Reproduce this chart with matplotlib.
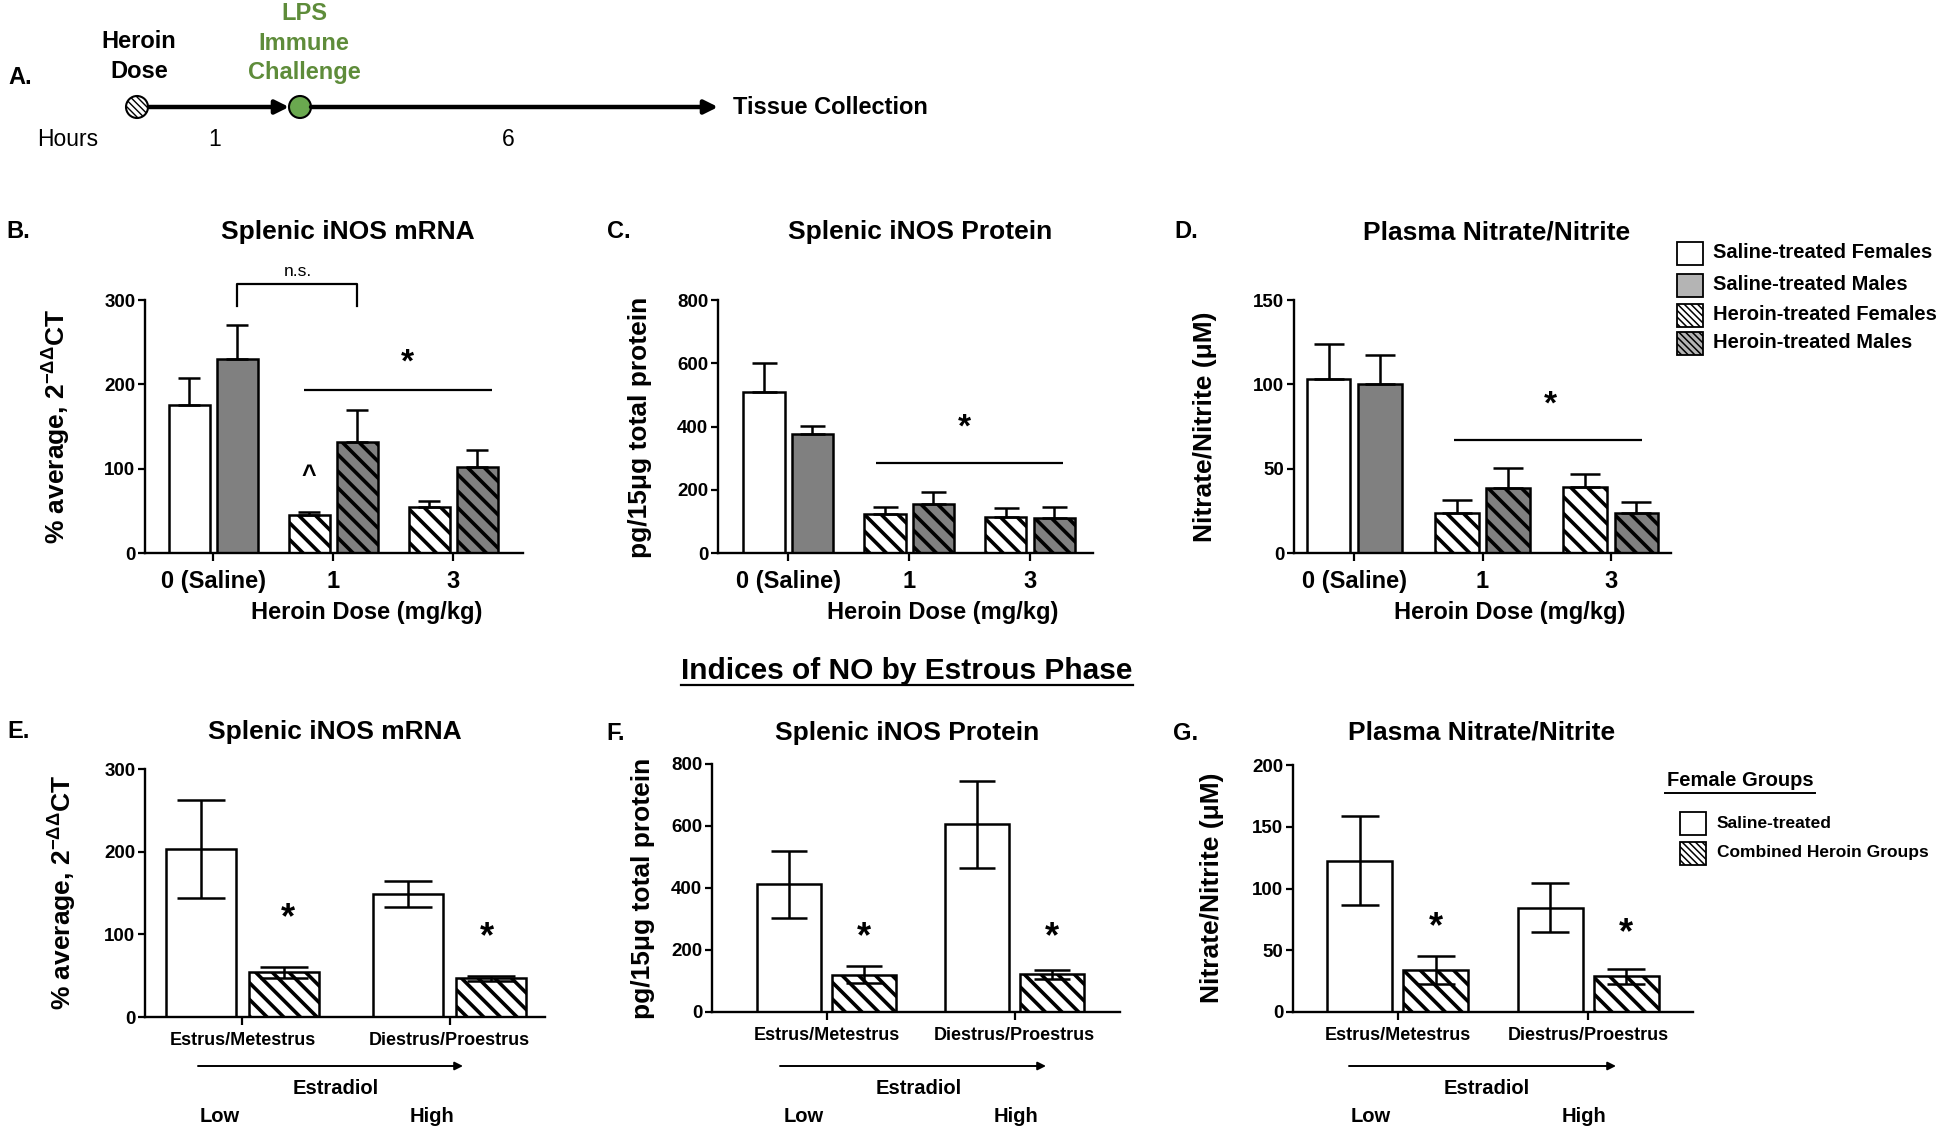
import numpy as np
import matplotlib
matplotlib.use("Agg")
import matplotlib.pyplot as plt
from matplotlib.patches import Rectangle, Circle

plt.rcParams['font.family'] = ['Liberation Sans', 'DejaVu Sans']
plt.rcParams['font.weight'] = 'bold'
plt.rcParams['mathtext.default'] = 'regular'
plt.rcParams['hatch.linewidth'] = 2.6

W, H = 1950, 1135
GRAY = '#808080'
LEGEND_GRAY = '#b4b4b4'
GREEN = '#6aa84f'
GREEN_TEXT = '#5e8c3a'
BAR_HATCH = '\\\\'
SMALL_HATCH = '\\\\\\\\\\'

# ---- data: dose study (B-D), female / male means and SEM ----
dose_labels = ['0 (Saline)', '1', '3']
mrna_f = [176, 45, 55]
mrna_f_sem = [32, 3.5, 6.7]
mrna_m = [230, 132, 102]
mrna_m_sem = [40, 37, 20]

prot_f = [508, 124, 115]
prot_f_sem = [92, 20, 27]
prot_m = [375, 154, 112]
prot_m_sem = [26, 39, 34]

nox_f = [103, 24, 39]
nox_f_sem = [21, 7.4, 7.7]
nox_m = [100.4, 38.4, 24]
nox_m_sem = [17, 12, 6.4]

# ---- data: estrous phase (E-G), saline vs combined heroin ----
phase_labels = ['Estrus/Metestrus', 'Diestrus/Proestrus']
e_saline = [203, 149]
e_saline_sem = [59, 16]
e_heroin = [54, 47]
e_heroin_sem = [7, 3]

f_saline = [412, 605]
f_saline_sem = [108, 140]
f_heroin = [120, 122]
f_heroin_sem = [28, 15]

g_saline = [122.5, 84.5]
g_saline_sem = [36, 20]
g_heroin = [34, 29]
g_heroin_sem = [11, 6]

legend_top = ['Saline-treated Females', 'Saline-treated Males',
              'Heroin-treated Females', 'Heroin-treated Males']
legend_bottom = ['Saline-treated', 'Combined Heroin Groups']

fig = plt.figure(figsize=(W / 100, H / 100), dpi=100)
ax0 = fig.add_axes([0, 0, 1, 1])
ax0.set_xlim(0, W)
ax0.set_ylim(H, 0)
ax0.axis('off')


def px_axes(x0, y0, x1, y1):
    ax = fig.add_axes([x0 / W, 1 - y1 / H, (x1 - x0) / W, (y1 - y0) / H])
    ax.set_facecolor('none')
    for s in ['top', 'right']:
        ax.spines[s].set_visible(False)
    for s in ['left', 'bottom']:
        ax.spines[s].set_linewidth(1.7)
    ax.tick_params(axis='y', length=5, width=1.6, labelsize=13.5, pad=2)
    ax.tick_params(axis='x', length=6, width=1.6)
    return ax


def star(ax, x, y, size=26, txt='*'):
    ax.annotate(txt, (x, y), xytext=(0, -0.42 * size), textcoords='offset points',
                ha='center', va='baseline', fontsize=size)


def dose_panel(ax, mf, sf, mm, sm, ymax, step, xlim, cap):
    x = np.arange(len(dose_labels))
    hatches = [None, BAR_HATCH, BAR_HATCH]
    for i in x:
        ax.bar(i - 0.2, mf[i], 0.34, color='white', edgecolor='black', linewidth=1.8,
               hatch=hatches[i], zorder=2)
        ax.bar(i + 0.2, mm[i], 0.34, color=GRAY, edgecolor='black', linewidth=1.8,
               hatch=hatches[i], zorder=2)
    z = np.zeros(len(x))
    ax.errorbar(x - 0.2, mf, yerr=[z, sf], fmt='none', ecolor='black', elinewidth=1.8,
                capsize=cap, capthick=1.8, zorder=3)
    ax.errorbar(x + 0.2, mm, yerr=[z, sm], fmt='none', ecolor='black', elinewidth=1.8,
                capsize=cap, capthick=1.8, zorder=3)
    ax.set_xlim(*xlim)
    ax.set_ylim(0, ymax)
    ax.set_yticks(np.arange(0, ymax + 1, step))
    ax.set_xticks(x)
    ax.set_xticklabels(dose_labels, fontsize=17)
    ax.tick_params(axis='x', pad=6)


def phase_panel(ax, ms, ss, mh, sh, ymax, step, xlim, cap):
    x = np.arange(len(phase_labels))
    ax.bar(x - 0.2, ms, 0.34, color='white', edgecolor='black', linewidth=1.8, zorder=2)
    ax.bar(x + 0.2, mh, 0.34, color='white', edgecolor='black', linewidth=1.8,
           hatch=BAR_HATCH, zorder=2)
    ax.errorbar(x - 0.2, ms, yerr=ss, fmt='none', ecolor='black', elinewidth=1.8,
                capsize=cap, capthick=1.8, zorder=3)
    ax.errorbar(x + 0.2, mh, yerr=sh, fmt='none', ecolor='black', elinewidth=1.8,
                capsize=cap, capthick=1.8, zorder=3)
    ax.set_xlim(*xlim)
    ax.set_ylim(0, ymax)
    ax.set_yticks(np.arange(0, ymax + 1, step))
    ax.set_xticks(x)
    ax.set_xticklabels(phase_labels, fontsize=13)
    ax.tick_params(axis='x', pad=5)


def sig_line(ax, x0, x1, y):
    ax.plot([x0, x1], [y, y], color='black', lw=1.6, solid_capstyle='butt')


def legend_box(x, y, fill, hatch=None):
    r = Rectangle((x, y - 11.5), 26, 23, facecolor=fill, edgecolor='black',
                  linewidth=1.3, hatch=hatch)
    if hatch and hasattr(r, 'set_hatch_linewidth'):
        r.set_hatch_linewidth(1.1)
    ax0.add_patch(r)


# ---- A. timeline ----
ax0.text(8, 78, 'A.', fontsize=17, ha='left', va='center')
ax0.text(139, 42, 'Heroin', fontsize=17, ha='center', va='center')
ax0.text(139, 71, 'Dose', fontsize=17, ha='center', va='center')
for yy, t in zip([14, 44, 73], ['LPS', 'Immune', 'Challenge']):
    ax0.text(304, yy, t, fontsize=17, ha='center', va='center', color=GREEN_TEXT)
c1 = Circle((137, 107), 11, facecolor='white', edgecolor='black', lw=1.5, hatch=SMALL_HATCH)
if hasattr(c1, 'set_hatch_linewidth'):
    c1.set_hatch_linewidth(1.0)
ax0.add_patch(c1)
ax0.add_patch(Circle((300, 107), 11, facecolor=GREEN, edgecolor='black', lw=1.5, zorder=3))
ax0.annotate('', xy=(289, 107), xytext=(149, 107),
             arrowprops=dict(arrowstyle='-|>', lw=3.2, color='black', mutation_scale=20,
                             shrinkA=0, shrinkB=0))
ax0.annotate('', xy=(718, 107), xytext=(311, 107),
             arrowprops=dict(arrowstyle='-|>', lw=3.2, color='black', mutation_scale=20,
                             shrinkA=0, shrinkB=0))
ax0.text(733, 107, 'Tissue Collection', fontsize=17, ha='left', va='center')
ax0.text(68, 140, 'Hours', fontsize=16.5, fontweight='normal', ha='center', va='center')
ax0.text(215, 140, '1', fontsize=16.5, fontweight='normal', ha='center', va='center')
ax0.text(508, 140, '6', fontsize=16.5, fontweight='normal', ha='center', va='center')

# ---- B. splenic iNOS mRNA ----
axB = px_axes(145, 300, 523, 553)
dose_panel(axB, mrna_f, mrna_f_sem, mrna_m, mrna_m_sem, 300, 100, (-0.567, 2.58), 8)
axB.plot([0.2, 0.2, 1.2, 1.2], [293, 319, 319, 293], color='black', lw=1.6, clip_on=False)
axB.text(0.71, 334, 'n.s.', fontsize=12.5, fontweight='normal', ha='center', va='center')
sig_line(axB, 0.76, 2.32, 193)
star(axB, 1.62, 232, 24)
star(axB, 0.8, 96, 18, '^')
ax0.text(6, 232, 'B.', fontsize=17, ha='left', va='center')
ax0.text(348, 232, 'Splenic iNOS mRNA', fontsize=19, ha='center', va='center')
ax0.text(57, 427, '% average, 2$^{-ΔΔ}$CT', fontsize=19, rotation=90, ha='center', va='center')
ax0.text(367, 612, 'Heroin Dose (mg/kg)', fontsize=17, ha='center', va='center')

# ---- C. splenic iNOS protein ----
axC = px_axes(718, 300, 1093, 553)
dose_panel(axC, prot_f, prot_f_sem, prot_m, prot_m_sem, 800, 200, (-0.58, 2.52), 9)
sig_line(axC, 0.73, 2.27, 284)
star(axC, 1.46, 411, 24)
ax0.text(607, 232, 'C.', fontsize=17, ha='left', va='center')
ax0.text(920, 232, 'Splenic iNOS Protein', fontsize=19, ha='center', va='center')
ax0.text(640, 427, 'pg/15μg total protein', fontsize=19, rotation=90, ha='center', va='center')
ax0.text(943, 612, 'Heroin Dose (mg/kg)', fontsize=17, ha='center', va='center')

# ---- D. plasma nitrate/nitrite ----
axD = px_axes(1294, 300, 1671, 553)
dose_panel(axD, nox_f, nox_f_sem, nox_m, nox_m_sem, 150, 50, (-0.47, 2.47), 11)
sig_line(axD, 0.78, 2.24, 67)
star(axD, 1.53, 90.7, 24)
ax0.text(1174, 232, 'D.', fontsize=17, ha='left', va='center')
ax0.text(1497, 232, 'Plasma Nitrate/Nitrite', fontsize=19, ha='center', va='center')
ax0.text(1205, 427, 'Nitrate/Nitrite (μM)', fontsize=19, rotation=90, ha='center', va='center')
ax0.text(1510, 612, 'Heroin Dose (mg/kg)', fontsize=17, ha='center', va='center')

# legend for B-D
top_fills = ['white', LEGEND_GRAY, 'white', LEGEND_GRAY]
top_hatch = [None, None, SMALL_HATCH, SMALL_HATCH]
for yy, lab, fc, ht in zip([253, 285, 315, 343], legend_top, top_fills, top_hatch):
    legend_box(1677, yy, fc, ht)
    ax0.text(1713, yy, lab, fontsize=14.5, ha='left', va='center')

# ---- estrous phase section ----
ax0.text(907, 671, 'Indices of NO by Estrous Phase', fontsize=21.5, ha='center', va='center')
ax0.plot([681, 1133], [685, 685], color='black', lw=1.6)

# E
axE = px_axes(145, 769, 545, 1017)
phase_panel(axE, e_saline, e_saline_sem, e_heroin, e_heroin_sem, 300, 100, (-0.47, 1.46), 17)
star(axE, 0.22, 126)
star(axE, 1.18, 103)
ax0.text(7, 732, 'E.', fontsize=17, ha='left', va='center')
ax0.text(335, 732, 'Splenic iNOS mRNA', fontsize=19, ha='center', va='center')
ax0.text(63, 893, '% average, 2$^{-ΔΔ}$CT', fontsize=19, rotation=90, ha='center', va='center')

# F
axF = px_axes(712, 764, 1120, 1012)
phase_panel(axF, f_saline, f_saline_sem, f_heroin, f_heroin_sem, 800, 200, (-0.61, 1.56), 13)
star(axF, 0.2, 259)
star(axF, 1.2, 259)
ax0.text(606, 733, 'F.', fontsize=17, ha='left', va='center')
ax0.text(907, 733, 'Splenic iNOS Protein', fontsize=19, ha='center', va='center')
ax0.text(643, 888, 'pg/15μg total protein', fontsize=19, rotation=90, ha='center', va='center')

# G
axG = px_axes(1293, 765, 1693, 1012)
phase_panel(axG, g_saline, g_saline_sem, g_heroin, g_heroin_sem, 200, 50, (-0.55, 1.55), 14)
star(axG, 0.2, 73)
star(axG, 1.2, 68)
ax0.text(1173, 733, 'G.', fontsize=17, ha='left', va='center')
ax0.text(1482, 732, 'Plasma Nitrate/Nitrite', fontsize=19, ha='center', va='center')
ax0.text(1212, 888, 'Nitrate/Nitrite (μM)', fontsize=19, rotation=90, ha='center', va='center')

# estradiol arrows under E-G
for x0, x1, xe, xl, xh in [(198, 463, 336, 220, 432),
                           (780, 1046, 919, 804, 1016),
                           (1349, 1616, 1487, 1371, 1584)]:
    ax0.annotate('', xy=(x1, 1066), xytext=(x0, 1066),
                 arrowprops=dict(arrowstyle='-|>', lw=1.4, color='black', mutation_scale=12,
                                 shrinkA=0, shrinkB=0))
    ax0.text(xe, 1089, 'Estradiol', fontsize=14.5, ha='center', va='center')
    ax0.text(xl, 1117, 'Low', fontsize=14.5, ha='center', va='center')
    ax0.text(xh, 1117, 'High', fontsize=14.5, ha='center', va='center')

# legend for E-G
ax0.text(1740, 781, 'Female Groups', fontsize=14.5, ha='center', va='center')
ax0.plot([1665, 1815], [793, 793], color='black', lw=1.4)
for yy, lab, ht in zip([823, 853], legend_bottom, [None, SMALL_HATCH]):
    legend_box(1680, yy, 'white', ht)
    ax0.text(1717, yy, lab, fontsize=12.5, ha='left', va='center')

fig.savefig('out.png', dpi=100)
